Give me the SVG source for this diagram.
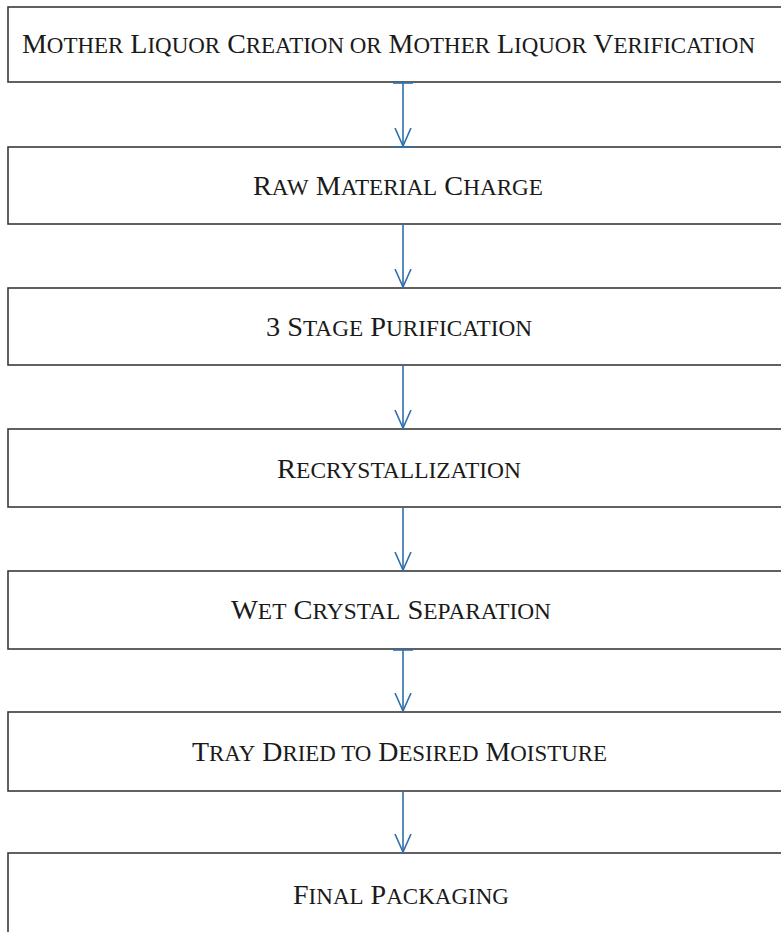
<svg xmlns="http://www.w3.org/2000/svg" width="781" height="932" viewBox="0 0 781 932">
<style>
.box{fill:#fff;stroke:#3a3a3a;stroke-width:1.6}
.t{font-family:"Liberation Serif","Times New Roman",serif;fill:#1a1a1a;font-size:28px}
.s{font-size:23px}
.c{stroke:#2f6fae;stroke-width:1.6;fill:none}
.tick{stroke:#2f6fae;stroke-width:1.6}
</style>
<defs>
<marker id="ah" viewBox="0 0 20 20" refX="18" refY="10" markerWidth="20" markerHeight="20" markerUnits="userSpaceOnUse" orient="auto">
<path d="M0,2 L18,10 L0,18" fill="none" stroke="#2f6fae" stroke-width="1.6"/>
</marker>
</defs>
<rect width="781" height="932" fill="#fff"/>
<g id="n1"><rect class="box" x="8" y="7" width="790" height="75"/>
<text class="t" x="22" y="53" textLength="733" lengthAdjust="spacingAndGlyphs">M<tspan class="s">OTHER</tspan> L<tspan class="s">IQUOR</tspan> C<tspan class="s">REATION OR</tspan> M<tspan class="s">OTHER</tspan> L<tspan class="s">IQUOR</tspan> V<tspan class="s">ERIFICATION</tspan></text></g>
<g id="n2"><rect class="box" x="8" y="147" width="790" height="77"/>
<text class="t" x="253" y="194.5" textLength="290" lengthAdjust="spacingAndGlyphs">R<tspan class="s">AW</tspan> M<tspan class="s">ATERIAL</tspan> C<tspan class="s">HARGE</tspan></text></g>
<g id="n3"><rect class="box" x="8" y="288" width="790" height="77"/>
<text class="t" x="266" y="335.5" textLength="266" lengthAdjust="spacingAndGlyphs">3 S<tspan class="s">TAGE</tspan> P<tspan class="s">URIFICATION</tspan></text></g>
<g id="n4"><rect class="box" x="8" y="429" width="790" height="78"/>
<text class="t" x="277" y="477.5" textLength="244" lengthAdjust="spacingAndGlyphs">R<tspan class="s">ECRYSTALLIZATION</tspan></text></g>
<g id="n5"><rect class="box" x="8" y="571" width="790" height="78"/>
<text class="t" x="231" y="618.5" textLength="320" lengthAdjust="spacingAndGlyphs">W<tspan class="s">ET</tspan> C<tspan class="s">RYSTAL</tspan> S<tspan class="s">EPARATION</tspan></text></g>
<g id="n6"><rect class="box" x="8" y="712" width="790" height="79"/>
<text class="t" x="192" y="760.5" textLength="415" lengthAdjust="spacingAndGlyphs">T<tspan class="s">RAY</tspan> D<tspan class="s">RIED TO</tspan> D<tspan class="s">ESIRED</tspan> M<tspan class="s">OISTURE</tspan></text></g>
<g id="n7"><rect class="box" x="8" y="853" width="790" height="100"/>
<text class="t" x="293" y="903.5" textLength="216" lengthAdjust="spacingAndGlyphs">F<tspan class="s">INAL</tspan> P<tspan class="s">ACKAGING</tspan></text></g>
<g id="connectors">
<line class="tick" x1="393" y1="83" x2="413" y2="83"/>
<line class="c" x1="403" y1="83" x2="403" y2="146" marker-end="url(#ah)"/>
<line class="tick" x1="393" y1="147" x2="413" y2="147"/>
<line class="c" x1="403" y1="225" x2="403" y2="287" marker-end="url(#ah)"/>
<line class="c" x1="403" y1="366" x2="403" y2="428" marker-end="url(#ah)"/>
<line class="c" x1="403" y1="508" x2="403" y2="570" marker-end="url(#ah)"/>
<line class="tick" x1="393" y1="650" x2="413" y2="650"/>
<line class="c" x1="403" y1="650" x2="403" y2="711" marker-end="url(#ah)"/>
<line class="c" x1="403" y1="792" x2="403" y2="852" marker-end="url(#ah)"/>
</g>
</svg>
